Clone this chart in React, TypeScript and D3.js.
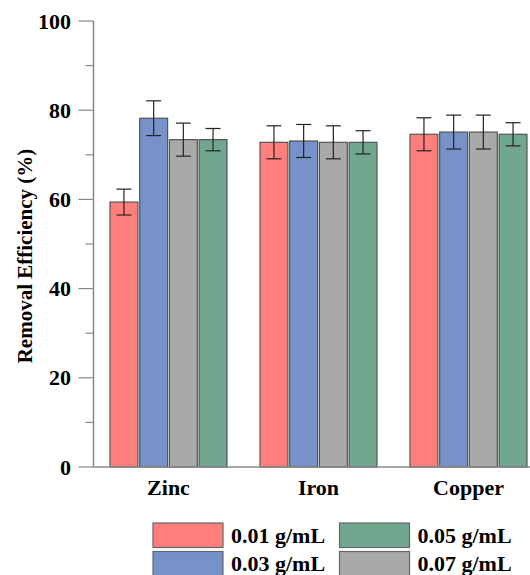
import React, { useRef, useEffect } from "react";
import * as d3 from "d3";

const WIDTH = 530;
const HEIGHT = 575;

const metals = ["Zinc", "Iron", "Copper"];
const doses = ["0.01 g/mL", "0.03 g/mL", "0.07 g/mL", "0.05 g/mL"];
const doseColors = ["#ff7f7c", "#7792c8", "#a9a9a9", "#71a78f"];

// removal efficiency (%) per metal, in dose order above
const means = [
  [59.4, 78.2, 73.4, 73.4],
  [72.8, 73.1, 72.8, 72.8],
  [74.6, 75.1, 75.1, 74.6],
];
const errors = [
  [2.9, 3.9, 3.7, 2.5],
  [3.7, 3.7, 3.7, 2.6],
  [3.7, 3.8, 3.8, 2.6],
];

const majorTicks = [0, 20, 40, 60, 80, 100];
const minorTicks = [10, 30, 50, 70, 90];

// legend layout: columns of doses
const legendCols = [
  ["0.01 g/mL", "0.03 g/mL"],
  ["0.05 g/mL", "0.07 g/mL"],
];

const FONT = "Liberation Serif, Times New Roman, Times, serif";

export default function App() {
  const svgRef = useRef<SVGSVGElement>(null);

  useEffect(() => {
    const svg = d3.select(svgRef.current);
    svg.selectAll("*").remove();

    const axisX = 93.5;
    const y = d3.scaleLinear().domain([0, 100]).range([467, 21]);
    const x0 = d3
      .scaleBand()
      .domain(metals)
      .range([axisX, 543.5])
      .paddingInner(0.22)
      .paddingOuter(0.11);
    const x1 = d3
      .scaleBand()
      .domain(doses)
      .range([0, x0.bandwidth()])
      .paddingInner(0.06);
    const color = d3.scaleOrdinal<string, string>().domain(doses).range(doseColors);

    // bars
    const groups = svg
      .selectAll("g.group")
      .data(metals)
      .join("g")
      .attr("class", "group")
      .attr("transform", (d) => `translate(${x0(d)},0)`);

    groups.each(function (metal, mi) {
      const g = d3.select(this);
      const rows = doses.map((dose, di) => ({
        dose,
        v: means[mi][di],
        e: errors[mi][di],
      }));

      g.selectAll("rect")
        .data(rows)
        .join("rect")
        .attr("x", (d) => x1(d.dose)!)
        .attr("y", (d) => y(d.v))
        .attr("width", x1.bandwidth())
        .attr("height", (d) => y(0) - y(d.v))
        .attr("fill", (d) => color(d.dose))
        .attr("stroke", "#555")
        .attr("stroke-width", 1.2);

      const eb = g
        .selectAll("g.err")
        .data(rows)
        .join("g")
        .attr("class", "err")
        .attr("stroke", "#222")
        .attr("stroke-width", 1.2);
      const cx = (d: any) => x1(d.dose)! + x1.bandwidth() / 2;
      eb.append("line")
        .attr("x1", cx)
        .attr("x2", cx)
        .attr("y1", (d) => y(d.v + d.e))
        .attr("y2", (d) => y(d.v - d.e));
      eb.append("line")
        .attr("x1", (d) => cx(d) - 7.5)
        .attr("x2", (d) => cx(d) + 7.5)
        .attr("y1", (d) => y(d.v + d.e))
        .attr("y2", (d) => y(d.v + d.e));
      eb.append("line")
        .attr("x1", (d) => cx(d) - 7.5)
        .attr("x2", (d) => cx(d) + 7.5)
        .attr("y1", (d) => y(d.v - d.e))
        .attr("y2", (d) => y(d.v - d.e));
    });

    // axes
    const axisColor = "#888";
    svg
      .append("line")
      .attr("x1", axisX)
      .attr("x2", axisX)
      .attr("y1", y(100))
      .attr("y2", y(0))
      .attr("stroke", axisColor)
      .attr("stroke-width", 1.5);
    svg
      .append("line")
      .attr("x1", axisX)
      .attr("x2", WIDTH)
      .attr("y1", y(0))
      .attr("y2", y(0))
      .attr("stroke", axisColor)
      .attr("stroke-width", 1.5);

    svg
      .selectAll("line.major")
      .data(majorTicks)
      .join("line")
      .attr("class", "major")
      .attr("x1", axisX - 15)
      .attr("x2", axisX)
      .attr("y1", (d) => y(d))
      .attr("y2", (d) => y(d))
      .attr("stroke", axisColor)
      .attr("stroke-width", 1.2);
    svg
      .selectAll("line.minor")
      .data(minorTicks)
      .join("line")
      .attr("class", "minor")
      .attr("x1", axisX - 8)
      .attr("x2", axisX)
      .attr("y1", (d) => y(d))
      .attr("y2", (d) => y(d))
      .attr("stroke", axisColor)
      .attr("stroke-width", 1.2);

    const text = svg
      .append("g")
      .style("font-family", FONT)
      .style("font-weight", "bold");

    text
      .selectAll("text.ytick")
      .data(majorTicks)
      .join("text")
      .attr("class", "ytick")
      .attr("x", 71)
      .attr("y", (d) => y(d) + 7.5)
      .attr("text-anchor", "end")
      .style("font-size", "22px")
      .text((d) => d);

    text
      .selectAll("text.xtick")
      .data(metals)
      .join("text")
      .attr("class", "xtick")
      .attr("x", (d) => x0(d)! + x0.bandwidth() / 2)
      .attr("y", 495)
      .attr("text-anchor", "middle")
      .style("font-size", "22px")
      .text((d) => d);

    text
      .append("text")
      .attr("transform", `translate(32,256) rotate(-90)`)
      .attr("text-anchor", "middle")
      .style("font-size", "21px")
      .text("Removal Efficiency (%)");

    // legend
    const colX = [153, 339.5];
    legendCols.forEach((col, ci) => {
      col.forEach((dose, ri) => {
        const top = 523 + ri * 28.5;
        svg
          .append("rect")
          .attr("x", colX[ci])
          .attr("y", top)
          .attr("width", 70)
          .attr("height", 24.5)
          .attr("fill", color(dose))
          .attr("stroke", "#666")
          .attr("stroke-width", 1.2);
        text
          .append("text")
          .attr("x", colX[ci] + 78)
          .attr("y", top + 19.5)
          .style("font-size", "22px")
          .text(dose);
      });
    });
  }, []);

  return (
    <svg
      ref={svgRef}
      width={WIDTH}
      height={HEIGHT}
      style={{ position: "absolute", left: 0, top: 0, background: "#fff" }}
    />
  );
}
